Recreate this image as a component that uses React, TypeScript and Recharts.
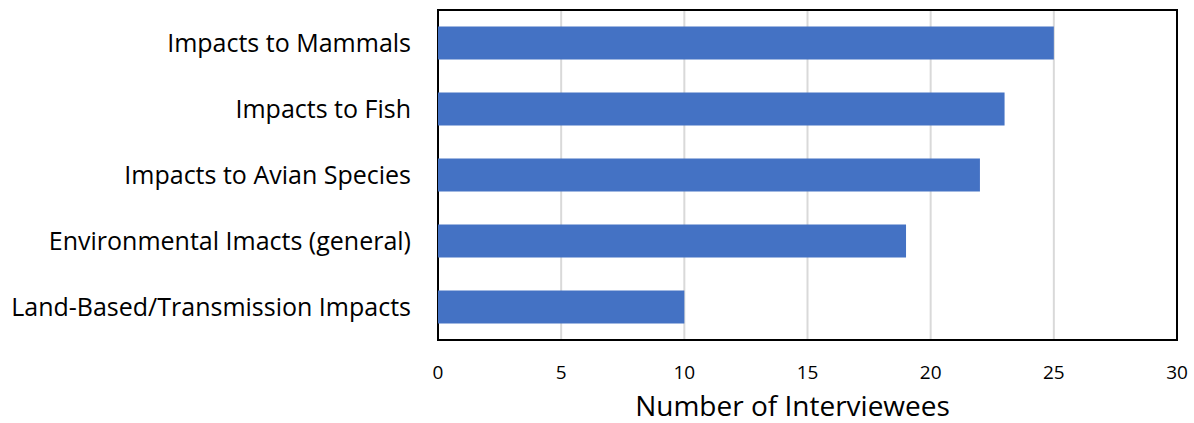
import React from 'react';
import { BarChart, Bar, XAxis, YAxis, CartesianGrid, ReferenceArea } from 'recharts';

const categories = [
  'Impacts to Mammals',
  'Impacts to Fish',
  'Impacts to Avian Species',
  'Environmental Imacts (general) ',
  'Land-Based/Transmission Impacts',
];
const interviewees = [25, 23, 22, 19, 10];
const xTicks = [0, 5, 10, 15, 20, 25, 30];

const data = categories.map((name, i) => ({ name, value: interviewees[i] }));

const FONT = '"Open Sans", Lato, sans-serif';

export default function App() {
  return (
    <div style={{ position: 'absolute', left: 0, top: 0, width: 1194, height: 423, background: '#fff' }}>
      <BarChart
        width={1194}
        height={423}
        data={data}
        layout="vertical"
        margin={{ top: 10, right: 17, bottom: 0, left: 0 }}
        barCategoryGap="25%"
      >
        <CartesianGrid horizontal={false} stroke="#d9d9d9" strokeWidth={2} />
        <XAxis
          type="number"
          domain={[0, 30]}
          ticks={xTicks}
          axisLine={false}
          tickLine={false}
          tickMargin={20}
          height={83}
          tick={{ fill: '#000', fontSize: 19, fontFamily: FONT }}
          label={{
            value: 'Number of Interviewees',
            position: 'insideBottom',
            offset: 7,
            dx: -15,
            fill: '#000',
            fontSize: 28,
            fontFamily: FONT,
          }}
        />
        <YAxis
          type="category"
          dataKey="name"
          width={438}
          axisLine={false}
          tickLine={false}
          tickMargin={21}
          tick={{ fill: '#000', fontSize: 25, fontFamily: FONT }}
        />
        <Bar dataKey="value" fill="#4472C4" isAnimationActive={false} />
        <ReferenceArea x1={0} x2={30} fill="none" stroke="#000" strokeWidth={2} />
      </BarChart>
    </div>
  );
}
